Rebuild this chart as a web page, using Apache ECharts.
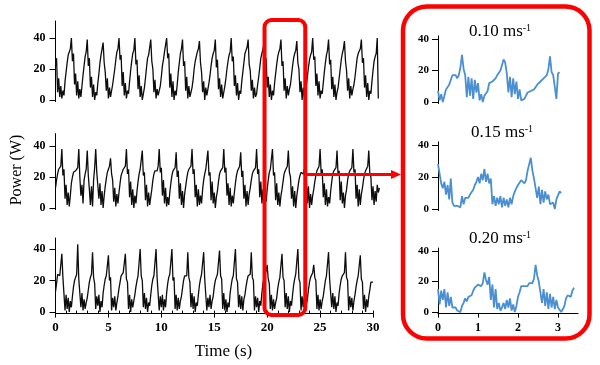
<!DOCTYPE html>
<html><head><meta charset="utf-8">
<script src="https://cdn.jsdelivr.net/npm/echarts@6/dist/echarts.min.js"></script>
<style>html,body{margin:0;padding:0;background:#fff}#c{width:600px;height:365px}</style>
</head><body><div id="c"></div>
<script>
// sampling steps (s)
const leftStep = 0.1;
const rightStep = 0.04;

// Power (W), full 30 s recordings
const powerTop = [
22,27,5,14,2,9,1,6,3,12,18,24,29,31,33,
40,25,30,10,17,3,12,1,7,2,9,16,22,28,31,
39,22,27,8,15,2,10,0,5,3,11,17,24,29,30,
37,24,18,6,14,1,8,2,6,10,15,20,26,31,33,
40,26,29,9,18,3,11,1,6,4,12,19,25,30,32,
40,23,26,7,16,2,9,0,4,8,14,21,27,29,34,
39,25,20,5,13,1,7,3,2,9,15,22,26,31,32,
40,27,30,8,17,2,12,0,6,3,10,18,24,30,33,
39,22,25,6,15,1,9,2,5,8,13,20,25,28,31,33,
38,24,18,5,12,0,8,3,7,11,16,22,27,30,32,
39,21,26,7,14,2,10,1,5,9,14,20,25,29,31,
40,25,28,9,16,3,11,0,6,4,12,18,24,30,32,34,
39,23,19,6,13,1,8,2,4,10,15,21,27,30,33,
36,24,27,8,15,2,10,0,6,3,11,17,23,28,31,33,
39,22,25,6,14,1,9,3,7,10,16,22,27,30,32,
38,24,20,5,12,0,8,2,5,9,15,21,26,29,31,
40,26,28,9,17,3,12,1,6,4,11,18,24,29,32,
39,23,26,7,15,2,10,0,5,8,14,20,26,30,33,
38,25,19,6,14,1,9,3,7,10,15,21,27,30,31,33,
39,24,27,8,16,2,11,0,6,4,12,19,25,28,30,
40,1
];
const powerMid = [
13,18,22,25,26,27,
38,21,25,6,15,2,10,1,8,16,
20,23,22,24,23,26,
38,20,8,15,3,18,22,25,
37,21,12,2,14,1,18,26,
38,23,24,6,16,2,11,0,8,14,19,23,25,27,
32,22,18,4,13,1,9,3,10,16,21,23,25,24,27,
38,22,25,7,17,2,12,0,8,3,11,17,22,25,26,
37,21,23,5,15,1,10,2,7,12,18,22,24,25,24,27,
38,23,26,8,18,3,13,1,7,2,10,16,21,24,25,26,
36,20,24,6,16,2,11,0,9,14,19,23,25,24,27,
38,22,25,7,15,1,12,2,8,3,12,18,22,25,26,
37,21,23,5,17,3,10,0,7,11,17,22,24,25,26,
38,23,26,8,16,2,13,1,8,3,10,16,21,24,25,27,
36,20,24,6,15,1,11,2,9,13,18,22,24,25,26,
38,22,25,7,17,3,12,0,7,4,12,18,23,25,26,
38,21,23,5,16,2,10,1,8,12,17,22,24,25,27,
37,23,20,6,14,1,11,0,8,13,18,21,23,24,22,
25,12,18,3,14,0,9,2,8,12,17,21,24,25,27,
38,22,25,7,16,2,12,1,7,3,11,17,22,24,25,26,
37,21,24,5,17,3,10,0,8,12,18,22,24,25,26,
38,23,25,6,15,1,12,2,9,13,18,22,24,25,27,
37,22,20,5,14,2,11,4,15,10,13
];
const powerBot = [
13,18,24,25,23,24,
37,22,23,1,11,2,9,0,7,3,10,16,20,22,24,
43,21,20,3,12,1,8,2,6,9,14,19,22,24,
38,22,18,2,10,4,11,0,7,3,12,17,21,23,24,
36,20,22,1,9,3,10,1,6,10,15,19,23,22,25,24,
37,21,19,2,11,0,8,3,7,11,16,20,23,24,
40,23,20,3,12,2,9,0,6,4,11,17,21,23,24,
40,22,21,1,10,3,11,1,8,3,12,18,22,24,25,
40,20,22,2,11,1,9,2,7,10,15,20,23,24,23,
38,22,19,3,12,2,10,0,6,4,11,17,21,24,23,
38,21,20,1,9,3,11,2,7,10,16,20,22,24,25,
39,23,21,2,12,1,8,0,6,3,12,17,21,23,24,
40,21,19,3,11,2,10,1,8,11,16,20,23,22,24,
38,22,20,1,10,3,9,0,7,4,12,18,22,24,26,
30,21,18,2,11,1,8,2,6,9,15,19,22,23,
37,22,20,3,12,2,10,0,7,4,11,17,21,24,25,
40,21,19,1,10,3,9,1,0,8,14,19,22,23,25,
30,22,20,2,11,1,8,2,7,10,15,20,23,24,
38,21,22,3,12,2,10,0,6,4,12,17,21,23,24,25,
38,22,20,1,10,3,9,1,7,11,16,20,23,24,
36,21,19,2,11,0,8,3,10,14,19,20,19
];

// Power (W), zoomed 3 s windows
const zoom010 = [
7,1,5,0,4,8,7,11,14,17,18,17,15,17,22,30,21,17,3,16,
4,15,2,14,6,12,1,5,0,4,3,7,12,11,13,14,15,17,18,20,
21,27,25,18,6,16,3,15,5,13,2,8,1,0,2,4,6,6,7,6,
8,9,11,12,13,13,15,14,17,21,29,19,17,16,2,18,19
];
const zoom015 = [
28,27,16,13,17,9,15,6,19,4,2,3,2,3,1,8,3,7,6,7,
9,10,12,15,17,20,16,22,18,25,17,22,16,19,3,8,2,7,3,8,
1,7,2,6,1,7,3,8,11,13,15,16,18,17,16,18,24,25,32,24,
19,18,7,14,3,12,4,11,6,9,3,2,4,0,6,7,11,10
];
const zoom020 = [
15,5,14,8,15,3,13,4,10,3,2,3,1,2,0,4,6,9,7,10,
9,11,14,16,17,18,18,17,19,26,21,18,23,8,18,3,15,2,6,1,
3,6,2,8,3,9,1,5,0,4,10,13,17,18,17,18,17,19,20,19,
22,31,24,20,19,6,15,4,13,2,12,3,10,2,8,3,2,0,1,4,
9,11,12,10,14,16
];

const powerTicks = [0, 20, 40];
const timeTicks = [0, 5, 10, 15, 20, 25, 30];
const zoomTimeTicks = [0, 1, 2, 3];
const zoomTitles = ['0.10', '0.15', '0.20'];
const highlightWindow = [19.75, 23.6];

const serif = 'Liberation Serif';
const toPairs = (arr, step) => arr.map((v, i) => [Math.round(i * step * 100) / 100, v]);

const grids = [
  {left: 55.5, top: 20.95, width: 328.1, height: 80.6},
  {left: 55.5, top: 133.6, width: 328.1, height: 75.95},
  {left: 55.5, top: 238, width: 317.5, height: 75.6},
  {left: 438, top: 35.85, width: 140, height: 67.7},
  {left: 438, top: 141.8, width: 140, height: 68.8},
  {left: 438, top: 248, width: 140, height: 65.6}
].map(g => Object.assign({outerBoundsMode: 'none', containLabel: false}, g));

function yAx(i, max, fs, margin) {
  return {
    gridIndex: i, type: 'value', min: -1, max: max,
    axisLine: {show: true, onZero: false, lineStyle: {color: '#000', width: 1}},
    axisTick: {show: true, length: 6, customValues: powerTicks, lineStyle: {color: '#000', width: 1}},
    axisLabel: {customValues: powerTicks, color: '#000', fontFamily: serif, fontWeight: 'bold', fontSize: fs, margin: margin},
    splitLine: {show: false}
  };
}
function hiddenX(i, max) {
  return {gridIndex: i, type: 'value', min: 0, max: max, show: false};
}

const xAxes = [
  hiddenX(0, 31),
  hiddenX(1, 31),
  {
    gridIndex: 2, type: 'value', position: 'bottom', min: 0, max: 30,
    axisLine: {show: true, onZero: false, lineStyle: {color: '#000', width: 1}},
    axisTick: {show: true, length: 4, customValues: timeTicks, lineStyle: {color: '#000'}},
    axisLabel: {customValues: timeTicks, color: '#000', fontFamily: serif, fontWeight: 'bold', fontSize: 13, margin: 8},
    splitLine: {show: false}
  },
  hiddenX(3, 3.5),
  hiddenX(4, 3.5),
  {
    gridIndex: 5, type: 'value', position: 'bottom', min: 0, max: 3.5,
    axisLine: {show: true, onZero: false, lineStyle: {color: '#000', width: 1}},
    axisTick: {show: true, length: 4, customValues: zoomTimeTicks, lineStyle: {color: '#000'}},
    axisLabel: {customValues: zoomTimeTicks, color: '#000', fontFamily: serif, fontWeight: 'bold', fontSize: 12, margin: 8},
    splitLine: {show: false}
  },
  // minor (1 s) ticks on the time axis, pointing inward
  {
    gridIndex: 2, type: 'value', position: 'bottom', min: 0, max: 30, interval: 1,
    axisLine: {show: false, onZero: false},
    axisTick: {show: true, inside: true, length: 3, lineStyle: {color: '#000'}},
    axisLabel: {show: false}, splitLine: {show: false}
  }
];

const yAxes = [
  yAx(0, 51, 12, 10), yAx(1, 48, 12, 10), yAx(2, 47, 12, 10),
  yAx(3, 42, 11, 9), yAx(4, 42, 11, 9), yAx(5, 42, 11, 9)
];

function lineSeries(data, step, idx, color, width) {
  return {
    type: 'line', xAxisIndex: idx, yAxisIndex: idx, data: toPairs(data, step),
    showSymbol: false, symbol: 'none', lineStyle: {color: color, width: width},
    emphasis: {disabled: true}, silent: true
  };
}
const black = '#0d0d0d', blue = '#4a8fd2';
const series = [
  lineSeries(powerTop, leftStep, 0, black, 1.3),
  lineSeries(powerMid, leftStep, 1, black, 1.3),
  lineSeries(powerBot, leftStep, 2, black, 1.3),
  lineSeries(zoom010, rightStep, 3, blue, 1.8),
  lineSeries(zoom015, rightStep, 4, blue, 1.8),
  lineSeries(zoom020, rightStep, 5, blue, 1.8)
];

const chart = echarts.init(document.getElementById('c'), null, {renderer: 'canvas'});
chart.setOption({
  animation: false,
  backgroundColor: '#fff',
  grid: grids, xAxis: xAxes, yAxis: yAxes, series: series
});

const xa = chart.convertToPixel({xAxisIndex: 2}, highlightWindow[0]);
const xb = chart.convertToPixel({xAxisIndex: 2}, highlightWindow[1]);
const red = '#ff0000';
const titleY = [31.5, 132.5, 239];
const titleX = [500, 502, 500];

const graphics = [
  {type: 'rect', shape: {x: xa, y: 20, width: xb - xa, height: 295, r: 7},
   style: {fill: 'none', stroke: red, lineWidth: 4}, z: 100},
  {type: 'line', shape: {x1: xb, y1: 174.5, x2: 392, y2: 174.5},
   style: {stroke: red, lineWidth: 3}, z: 100},
  {type: 'polygon', shape: {points: [[391, 170], [401, 174.5], [391, 179]]},
   style: {fill: red}, z: 100},
  {type: 'rect', shape: {x: 403, y: 6.5, width: 186.5, height: 332, r: 24},
   style: {fill: 'none', stroke: red, lineWidth: 4.5}, z: 100},
  {type: 'text', x: 17, y: 170, rotation: Math.PI / 2,
   style: {text: 'Power (W)', fontFamily: serif, fontSize: 16, fill: '#000', align: 'center', verticalAlign: 'middle'}},
  {type: 'text', x: 223.5, y: 352,
   style: {text: 'Time (s)', fontFamily: serif, fontSize: 17, fill: '#000', align: 'center', verticalAlign: 'middle'}}
];
zoomTitles.forEach((t, i) => {
  graphics.push({
    type: 'text', x: titleX[i], y: titleY[i],
    style: {
      text: '{a|' + t + ' ms}{b|-1}', align: 'center', verticalAlign: 'middle',
      rich: {
        a: {fontFamily: serif, fontSize: 17, fill: '#000', color: '#000'},
        b: {fontFamily: serif, fontSize: 10, fill: '#000', color: '#000', verticalAlign: 'top'}
      }
    }
  });
});
chart.setOption({graphic: graphics});
</script>
</body></html>
